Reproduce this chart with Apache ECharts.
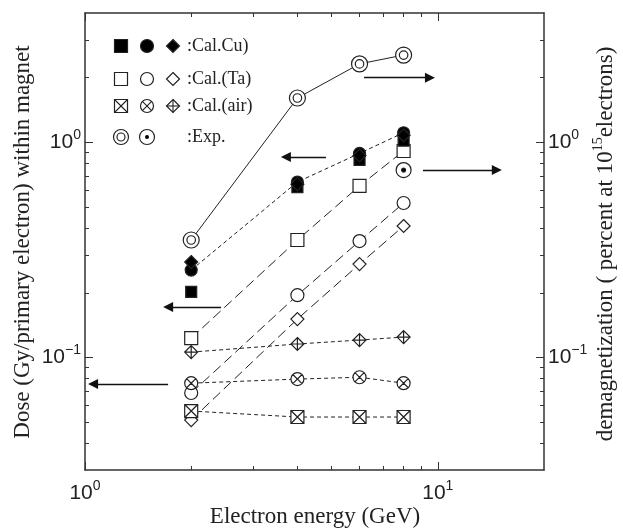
<!DOCTYPE html>
<html>
<head>
<meta charset="utf-8">
<script src="https://cdn.jsdelivr.net/npm/echarts@6/dist/echarts.min.js"></script>
<style>
  html, body { margin: 0; padding: 0; background: #fff; }
  #chart { width: 623px; height: 530px; }
</style>
</head>
<body>
<div id="chart"></div>
<script>
// Electron energies (GeV)
const energy = [2, 4, 6, 8];

// Calculated dose, copper target (Gy / primary electron)
const cuSquare  = [0.202, 0.62, 0.83, 1.02];
const cuCircle  = [0.255, 0.655, 0.89, 1.11];
const cuDiamond = [0.278, 0.64, 0.87, 1.08];

// Calculated dose, tantalum target
const taSquare  = [0.123, 0.352, 0.628, 0.913];
const taCircle  = [0.0684, 0.195, 0.348, 0.523];
const taDiamond = [0.0512, 0.151, 0.272, 0.409];

// Calculated dose, air
const airSquare  = [0.0564, 0.0529, 0.0529, 0.0529];
const airCircle  = [0.076, 0.0794, 0.081, 0.076];
const airDiamond = [0.106, 0.1156, 0.1206, 0.1245];

// Measured demagnetization (percent at 1e15 electrons)
const expDouble = [0.352, 1.61, 2.32, 2.55];
const expDotEnergy = [8];
const expDot = [0.744];

// Axis ranges and tick positions
const xRange = [1, 20];
const yRange = [0.03, 4];
const xMajor = [1, 10];
const xMinor = [2, 3, 4, 5, 6, 7, 8, 9];
const yMajor = [0.1, 1];
const yMinor = [0.04, 0.05, 0.06, 0.07, 0.08, 0.09, 0.2, 0.3, 0.4, 0.5, 0.6, 0.7, 0.8, 0.9, 2, 3];

// Arrows pointing each curve family to its axis: [x1, y1, x2, y2], head at the second point
const arrows = [
  [6.18, 2.0, 9.5, 2.0],
  [4.82, 0.856, 3.71, 0.856],
  [9.08, 0.745, 14.7, 0.745],
  [2.43, 0.172, 1.72, 0.172],
  [1.72, 0.0753, 1.054, 0.0753]
];

const INK = '#222';

// Marker outlines on a 20x20 box
const P_SQUARE  = 'M0 0H20V20H0Z';
const P_CIRCLE  = 'M0 10A10 10 0 1 1 20 10A10 10 0 1 1 0 10Z';
const P_DIAMOND = 'M10 0L20 10L10 20L0 10Z';
const P_SQX  = P_SQUARE + 'M0 0L20 20M20 0L0 20';
const P_CIRX = P_CIRCLE + 'M2.93 2.93L17.07 17.07M17.07 2.93L2.93 17.07';
const P_DIAX = P_DIAMOND + 'M10 0V20M0 10H20';
const P_DBL  = P_CIRCLE + 'M4.7 10A5.3 5.3 0 1 1 15.3 10A5.3 5.3 0 1 1 4.7 10Z';

function pairs(xs, ys) { return xs.map((x, i) => [x, ys[i]]); }

function powLabel(v) {
  const e = Math.round(Math.log10(v));
  return '{b|10}{s|' + (e < 0 ? '\u2212' + (-e) : e) + '}';
}
const powRich = {
  b: { fontFamily: 'Liberation Sans', fontSize: 21, color: INK, lineHeight: 28 },
  s: { fontFamily: 'Liberation Sans', fontSize: 14, color: INK, verticalAlign: 'top', lineHeight: 14 }
};

const axisLine = { show: true, lineStyle: { color: '#333', width: 1.5 } };

function logAxis(range, pos, ticks, len, withLine, labels, margin) {
  return {
    type: 'log', logBase: 10, min: range[0], max: range[1], position: pos,
    axisLine: withLine ? axisLine : { show: false },
    axisTick: { show: true, inside: true, length: len, customValues: ticks,
                lineStyle: { color: '#333', width: 1 } },
    axisLabel: labels ? { show: true, customValues: labels, formatter: powLabel, rich: powRich, margin: margin }
                      : { show: false },
    splitLine: { show: false },
    minorTick: { show: false },
    silent: true
  };
}

function lineSeries(ys, path, size, filled, dash) {
  return {
    type: 'line', data: pairs(energy, ys), symbol: path, symbolSize: size,
    showSymbol: true, showAllSymbol: true,
    lineStyle: { color: INK, width: 1, type: dash },
    itemStyle: { color: filled ? '#000' : '#fff', borderColor: INK, borderWidth: 1.2 },
    emphasis: { disabled: true }
  };
}
function scatterSeries(xs, ys, path, size, filled) {
  return {
    type: 'scatter', data: pairs(xs, ys), symbol: path, symbolSize: size,
    itemStyle: { color: filled ? '#000' : '#fff', borderColor: INK, borderWidth: 1.2, opacity: 1 },
    emphasis: { disabled: true }
  };
}

const SHORT = [4, 3];
const LONG = [10, 5];

const expSeries = lineSeries(expDouble, 'path://' + P_DBL, 16, false, 'solid');
expSeries.markLine = {
  silent: true, animation: false,
  symbol: ['none', 'triangle'], symbolSize: 10,
  itemStyle: { color: '#111', borderColor: '#111', borderWidth: 0 },
  lineStyle: { color: '#111', width: 1.3, type: 'solid' },
  label: { show: false },
  data: arrows.map(a => [
    { coord: [a[0], a[1]], itemStyle: { color: '#111' } },
    { coord: [a[2], a[3]], itemStyle: { color: '#111' } }
  ])
};

const series = [
  // tantalum
  lineSeries(taSquare, 'path://' + P_SQUARE, 13, false, LONG),
  lineSeries(taCircle, 'path://' + P_CIRCLE, 13, false, LONG),
  lineSeries(taDiamond, 'path://' + P_DIAMOND, 13, false, LONG),
  // air
  lineSeries(airSquare, 'path://' + P_SQX, 13, false, SHORT),
  lineSeries(airCircle, 'path://' + P_CIRX, 13, false, SHORT),
  lineSeries(airDiamond, 'path://' + P_DIAX, 13, false, SHORT),
  // copper
  lineSeries(cuCircle, 'circle', 12, true, SHORT),
  scatterSeries(energy, cuSquare, 'rect', 11, true),
  scatterSeries(energy, cuDiamond, 'diamond', 13, true),
  // measurements
  expSeries,
  scatterSeries(expDotEnergy, expDot, 'path://' + P_CIRCLE, 15, false),
  scatterSeries(expDotEnergy, expDot, 'circle', 4, true)
];

// Legend block, built from plain shapes
const legendCols = [121, 147, 173];
const legendRows = [
  { y: 46, marks: ['sq', 'ci', 'di'], filled: true, text: ':Cal.Cu)' },
  { y: 79, marks: ['sq', 'ci', 'di'], filled: false, text: ':Cal.(Ta)' },
  { y: 106, marks: ['sqx', 'cix', 'dix'], filled: false, text: ':Cal.(air)' },
  { y: 137, marks: ['dbl', 'dot'], filled: false, text: ':Exp.' }
];

function legendMark(kind, cx, cy, filled) {
  const h = 6.5;
  const st = { fill: filled ? '#000' : '#fff', stroke: INK, lineWidth: 1.2 };
  const ln = { stroke: INK, lineWidth: 1.1 };
  const out = [];
  const sq = () => out.push({ type: 'rect', shape: { x: cx - h, y: cy - h, width: 2 * h, height: 2 * h }, style: st });
  const ci = () => out.push({ type: 'circle', shape: { cx, cy, r: h }, style: st });
  const di = () => out.push({ type: 'polygon', shape: { points: [[cx, cy - h], [cx + h, cy], [cx, cy + h], [cx - h, cy]] }, style: st });
  const line = (x1, y1, x2, y2) => out.push({ type: 'line', shape: { x1, y1, x2, y2 }, style: ln });
  const d = h * 0.7071;
  switch (kind) {
    case 'sq': sq(); break;
    case 'ci': ci(); break;
    case 'di': di(); break;
    case 'sqx': sq(); line(cx - h, cy - h, cx + h, cy + h); line(cx + h, cy - h, cx - h, cy + h); break;
    case 'cix': ci(); line(cx - d, cy - d, cx + d, cy + d); line(cx + d, cy - d, cx - d, cy + d); break;
    case 'dix': di(); line(cx, cy - h, cx, cy + h); line(cx - h, cy, cx + h, cy); break;
    case 'dbl':
      out.push({ type: 'circle', shape: { cx, cy, r: 7.5 }, style: st });
      out.push({ type: 'circle', shape: { cx, cy, r: 4 }, style: st });
      break;
    case 'dot':
      out.push({ type: 'circle', shape: { cx, cy, r: 7.5 }, style: st });
      out.push({ type: 'circle', shape: { cx, cy, r: 2 }, style: { fill: '#000' } });
      break;
  }
  return out;
}

let legendEls = [];
legendRows.forEach(row => {
  row.marks.forEach((m, i) => {
    legendEls = legendEls.concat(legendMark(m, legendCols[i], row.y, row.filled));
  });
  legendEls.push({
    type: 'text', x: 187, y: row.y,
    style: { text: row.text, fontFamily: 'Liberation Serif', fontSize: 18, fill: INK, align: 'left', verticalAlign: 'middle' }
  });
});

// Axis titles
const titleFont = { fontFamily: 'Liberation Serif', fontSize: 23, fill: INK };
const titles = [
  { type: 'text', x: 315, y: 517, style: Object.assign({ text: 'Electron energy (GeV)', align: 'center', verticalAlign: 'middle' }, titleFont) },
  { type: 'text', x: 23, y: 242, rotation: Math.PI / 2,
    style: Object.assign({ text: 'Dose (Gy/primary electron) within magnet', align: 'center', verticalAlign: 'middle' }, titleFont) },
  { type: 'text', x: 606, y: 244, rotation: Math.PI / 2,
    style: {
      text: '{a|demagnetization ( percent at 10}{s|15}{a|electrons)}',
      align: 'center', verticalAlign: 'middle',
      rich: {
        a: { fontFamily: 'Liberation Serif', fontSize: 23, fill: INK, lineHeight: 30 },
        s: { fontFamily: 'Liberation Serif', fontSize: 14, fill: INK, verticalAlign: 'top', lineHeight: 14 }
      }
    } }
];

const chart = echarts.init(document.getElementById('chart'), null, { renderer: 'canvas' });
chart.setOption({
  animation: false,
  backgroundColor: '#fff',
  grid: { left: 85, top: 13, right: 79, bottom: 60, containLabel: false, outerBoundsMode: 'none' },
  xAxis: [
    logAxis(xRange, 'bottom', xMajor, 8, true, xMajor, 9),
    logAxis(xRange, 'bottom', xMinor, 4, false, null),
    logAxis(xRange, 'top', xMajor, 8, true, null),
    logAxis(xRange, 'top', xMinor, 4, false, null)
  ],
  yAxis: [
    logAxis(yRange, 'left', yMajor, 8, true, yMajor, 4),
    logAxis(yRange, 'left', yMinor, 4, false, null),
    logAxis(yRange, 'right', yMajor, 8, true, yMajor, 4),
    logAxis(yRange, 'right', yMinor, 4, false, null)
  ],
  series: series.map(s => Object.assign(s, { xAxisIndex: 0, yAxisIndex: 0, animation: false, z: 3 })),
  graphic: legendEls.concat(titles)
});
</script>
</body>
</html>
